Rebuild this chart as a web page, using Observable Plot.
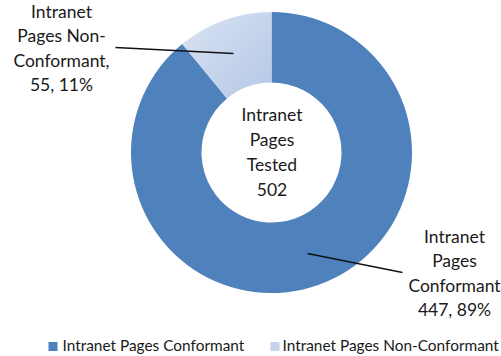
<!DOCTYPE html>
<html><head><meta charset="utf-8">
<script src="https://cdn.jsdelivr.net/npm/d3@7"></script>
<script src="https://cdn.jsdelivr.net/npm/@observablehq/plot@0.6"></script>
<style>body{margin:0;background:#fff}svg{display:block}</style>
</head><body><div id="chart"></div>
<script>
// ---- data ----
const categories = ["Intranet Pages Conformant", "Intranet Pages Non-Conformant"];
const counts = [447, 55];
const percents = ["89%", "11%"];
const totalLabel = ["Intranet", "Pages", "Tested", "502"];
const sliceLabels = [
  ["Intranet", "Pages", "Conformant", "447, 89%"],
  ["Intranet", "Pages Non-", "Conformant,", "55, 11%"]
];
const colors = ["#4f81bd", "url(#lightGrad)"];
const swatchColors = ["#4f81bd", "#c6d4eb"];

// ---- layout ----
const W = 501, H = 356;
const cx = 271.5, cy = 152.5, rOuter = 140.5, rInner = 70;
const font = "Lato, 'Open Sans', sans-serif";
const labelPos = [{x: 454, y: 237}, {x: 61, y: 12}];
const lineGap = 24.3;
const leaders = [
  {x1: 307, y1: 253, x2: 402, y2: 272},
  {x1: 233, y1: 53, x2: 115, y2: 47}
];
const legendPos = [{x: 52.5, y: 346, tx: 62}, {x: 274.5, y: 346, tx: 282}];

const slices = categories.map((c, i) => ({category: c, value: counts[i]}));
const arcs = d3.pie().sort(null).value(d => d.value)(slices);

const labelRows = [];
sliceLabels.forEach((lines, i) => lines.forEach((t, j) =>
  labelRows.push({text: t, x: labelPos[i].x, y: labelPos[i].y + j * lineGap})));
const centerRows = totalLabel.map((t, j) => ({text: t, x: cx, y: 115 + j * 25}));
const legendRows = categories.map((c, i) => ({...legendPos[i], category: c, color: swatchColors[i]}));

function donut(index, scales) {
  const g = d3.create("svg:g");
  const defs = g.append("defs");
  const lg = defs.append("linearGradient").attr("id", "lightGrad")
    .attr("x1", "0").attr("y1", "0").attr("x2", "1").attr("y2", "1");
  lg.append("stop").attr("offset", "0%").attr("stop-color", "#dae3f2");
  lg.append("stop").attr("offset", "100%").attr("stop-color", "#b4c7e6");
  const X = scales.x(cx), Y = scales.y(cy);
  const ro = scales.x(cx + rOuter) - X, ri = scales.x(cx + rInner) - X;
  const arc = d3.arc().innerRadius(ri).outerRadius(ro);
  g.append("g").attr("transform", `translate(${X},${Y})`)
    .selectAll("path").data(arcs).join("path")
    .attr("d", arc).attr("fill", (d, i) => colors[i]);
  return g.node();
}

const chart = Plot.plot({
  width: W, height: H,
  marginTop: 0, marginBottom: 0, marginLeft: 0, marginRight: 0,
  x: {domain: [0, W], range: [0, W], axis: null},
  y: {domain: [0, H], range: [0, H], axis: null},
  style: {fontFamily: font, background: "#fff"},
  marks: [
    donut,
    Plot.link(leaders, {x1: "x1", y1: "y1", x2: "x2", y2: "y2", stroke: "#111", strokeWidth: 1.3}),
    Plot.text(labelRows, {x: "x", y: "y", text: "text", fontSize: 17.5, fill: "#1a1a1a", textAnchor: "middle"}),
    Plot.text(centerRows, {x: "x", y: "y", text: "text", fontSize: 17.5, fill: "#1a1a1a", textAnchor: "middle"}),
    Plot.dot(legendRows, {x: "x", y: "y", symbol: "square", r: 5.1, fill: "color"}),
    Plot.text(legendRows, {x: "tx", y: "y", text: "category", fontSize: 15.4, fill: "#1a1a1a", textAnchor: "start"})
  ]
});
document.getElementById("chart").append(chart);
</script>
</body></html>
